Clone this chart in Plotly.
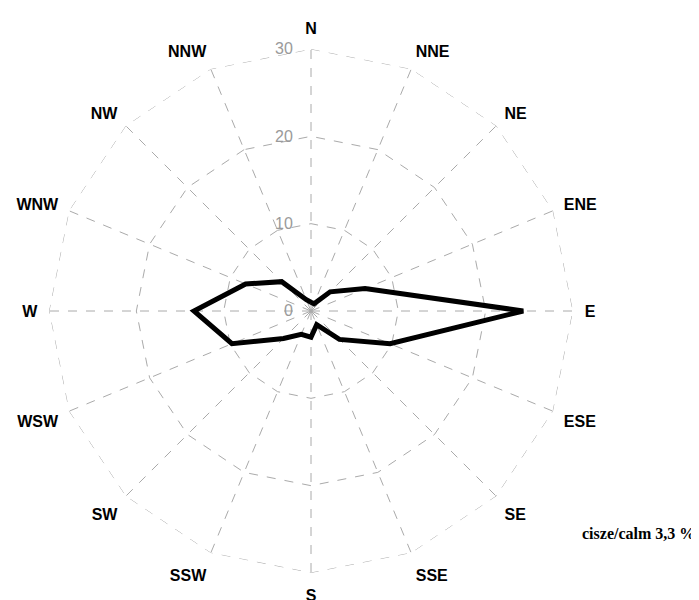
import plotly.graph_objects as go

directions = ["N", "NNE", "NE", "ENE", "E", "ESE", "SE", "SSE",
              "S", "SSW", "SW", "WSW", "W", "WNW", "NW", "NNW"]
frequency = [1.0, 0.9, 3.1, 6.7, 24.3, 9.8, 4.6, 1.7,
             3.0, 2.9, 4.45, 9.8, 13.4, 8.1, 4.75, 1.4]
radial_ticks = [0, 10, 20, 30]
calm_text = "cisze/calm 3,3 %"

theta = directions + [directions[0]]
r = frequency + [frequency[0]]
r_max = radial_ticks[-1]

# page body has an 8px default margin: figure is offset by 8px in the window
OFF = 8
W, H = 699 - OFF, 600 - OFF

grid_color = "#aaaaaa"

fig = go.Figure()
# outer dashed ring (grid at the range maximum)
fig.add_trace(go.Scatterpolar(
    r=[r_max] * len(theta), theta=theta, mode="lines",
    line=dict(color=grid_color, width=1, dash="dash"),
    showlegend=False, hoverinfo="skip",
))
fig.add_trace(go.Scatterpolar(
    r=r, theta=theta, mode="lines",
    line=dict(color="black", width=5),
    showlegend=False, hoverinfo="skip",
))

cx0, cx1 = 49 - OFF, 573 - OFF
cy0, cy1 = 49 - OFF, 573 - OFF
fig.update_layout(
    width=W, height=H,
    margin=dict(l=0, r=0, t=0, b=0),
    paper_bgcolor="white",
    polar=dict(
        domain=dict(x=[cx0 / W, cx1 / W], y=[1 - cy1 / H, 1 - cy0 / H]),
        bgcolor="white",
        gridshape="linear",
        angularaxis=dict(
            type="category",
            categoryarray=directions,
            rotation=90,
            direction="clockwise",
            showline=False,
            showgrid=True,
            gridcolor=grid_color,
            gridwidth=1,
            griddash="dash",
            ticks="outside",
            ticklen=8,
            tickcolor="rgba(0,0,0,0)",
            tickfont=dict(family="Liberation Sans", size=16, color="black", weight="bold"),
        ),
        radialaxis=dict(
            range=[0, r_max],
            angle=90,
            side="counterclockwise",
            tickvals=radial_ticks,
            ticktext=[str(v) for v in radial_ticks],
            showline=False,
            showgrid=True,
            gridcolor=grid_color,
            gridwidth=1,
            griddash="dash",
            ticks="outside",
            ticklen=12,
            tickcolor="rgba(0,0,0,0)",
            tickangle=90,
            tickfont=dict(family="Liberation Sans", size=16, color="#9a9a9a"),
        ),
    ),
    annotations=[dict(
        text=calm_text, x=(697 - OFF) / W, y=1 - (533 - OFF) / H,
        xref="paper", yref="paper",
        xanchor="right", yanchor="middle", showarrow=False,
        font=dict(family="Liberation Serif", size=16, color="black", weight="bold"),
    )],
)

fig.write_html("out.html")
